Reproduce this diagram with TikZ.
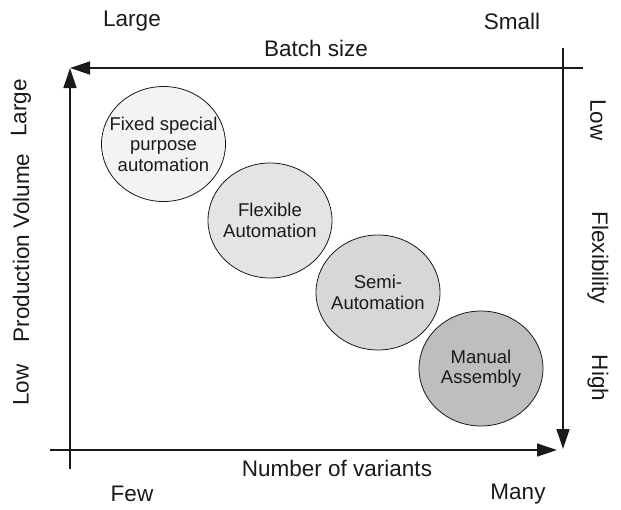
\documentclass[tikz,border=0pt]{standalone}
\usepackage{fontspec}
\setmainfont{Liberation Sans}
\usetikzlibrary{arrows.meta,shapes.geometric}
\definecolor{ink}{HTML}{1A1A1A}
\definecolor{fillA}{HTML}{F3F3F3}
\definecolor{fillB}{HTML}{E4E4E4}
\definecolor{fillC}{HTML}{D7D7D7}
\definecolor{fillD}{HTML}{BEBEBE}
\tikzset{
  axis/.style={line width=1.3pt, draw=ink, -{Triangle[length=20pt,width=13pt]}},
  blob/.style={ellipse, draw=ink, line width=0.8pt, minimum width=124pt, minimum height=115pt,
               inner xsep=-20pt, inner ysep=0pt, align=center, text=ink,
               font=\fontsize{18.5}{20.5}\selectfont},
  lbl/.style={text=ink, inner sep=0pt, font=\fontsize{22.5}{26}\selectfont}
}
\begin{document}
\begin{tikzpicture}[x=1pt, y=-1pt]
\useasboundingbox (0,0) rectangle (621,509);

% end points of the frame lines
\coordinate (tl) at (70,68);
\coordinate (tr) at (583,68);
\coordinate (rtop) at (563,48);
\coordinate (rbot) at (563,449);
\coordinate (bl) at (50,450);
\coordinate (br) at (557,450);
\coordinate (lbot) at (70,469);

% axes
\draw[axis] (lbot) -- (tl);
\draw[axis] (tr) -- (tl);
\draw[axis] (rtop) -- (rbot);
\draw[axis] (bl) -- (br);

% automation categories
\node[blob, fill=fillA] (fixed) at (163.5,144) {Fixed special\\purpose\\automation};
\node[blob, fill=fillB] (flex) at (270,220.5) {Flexible\\Automation};
\node[blob, fill=fillC] (semi) at (378,292.5) {Semi-\\Automation};
\node[blob, fill=fillD] (manual) at (481,368.5) {Manual\\Assembly};

% top labels
\node[lbl] (large) at (132,21) {Large};
\node[lbl] (small) at (512,21) {Small};
\node[lbl] (batch) at (316,48) {Batch size};

% bottom labels
\node[lbl] (variants) at (337,468) {Number of variants};
\node[lbl] (few) at (132,494) {Few};
\node[lbl] (many) at (518,494) {Many};

% left labels
\node[lbl, rotate=90] (vlarge) at (21,108) {Large};
\node[lbl, rotate=90] (volume) at (21,248) {Production Volume};
\node[lbl, rotate=90] (vlow) at (21,385) {Low};

% right labels
\node[lbl, rotate=-90] (flow) at (598,120) {Low};
\node[lbl, rotate=-90] (flexi) at (598,258) {Flexibility};
\node[lbl, rotate=-90] (fhigh) at (598,378) {High};
\end{tikzpicture}
\end{document}
